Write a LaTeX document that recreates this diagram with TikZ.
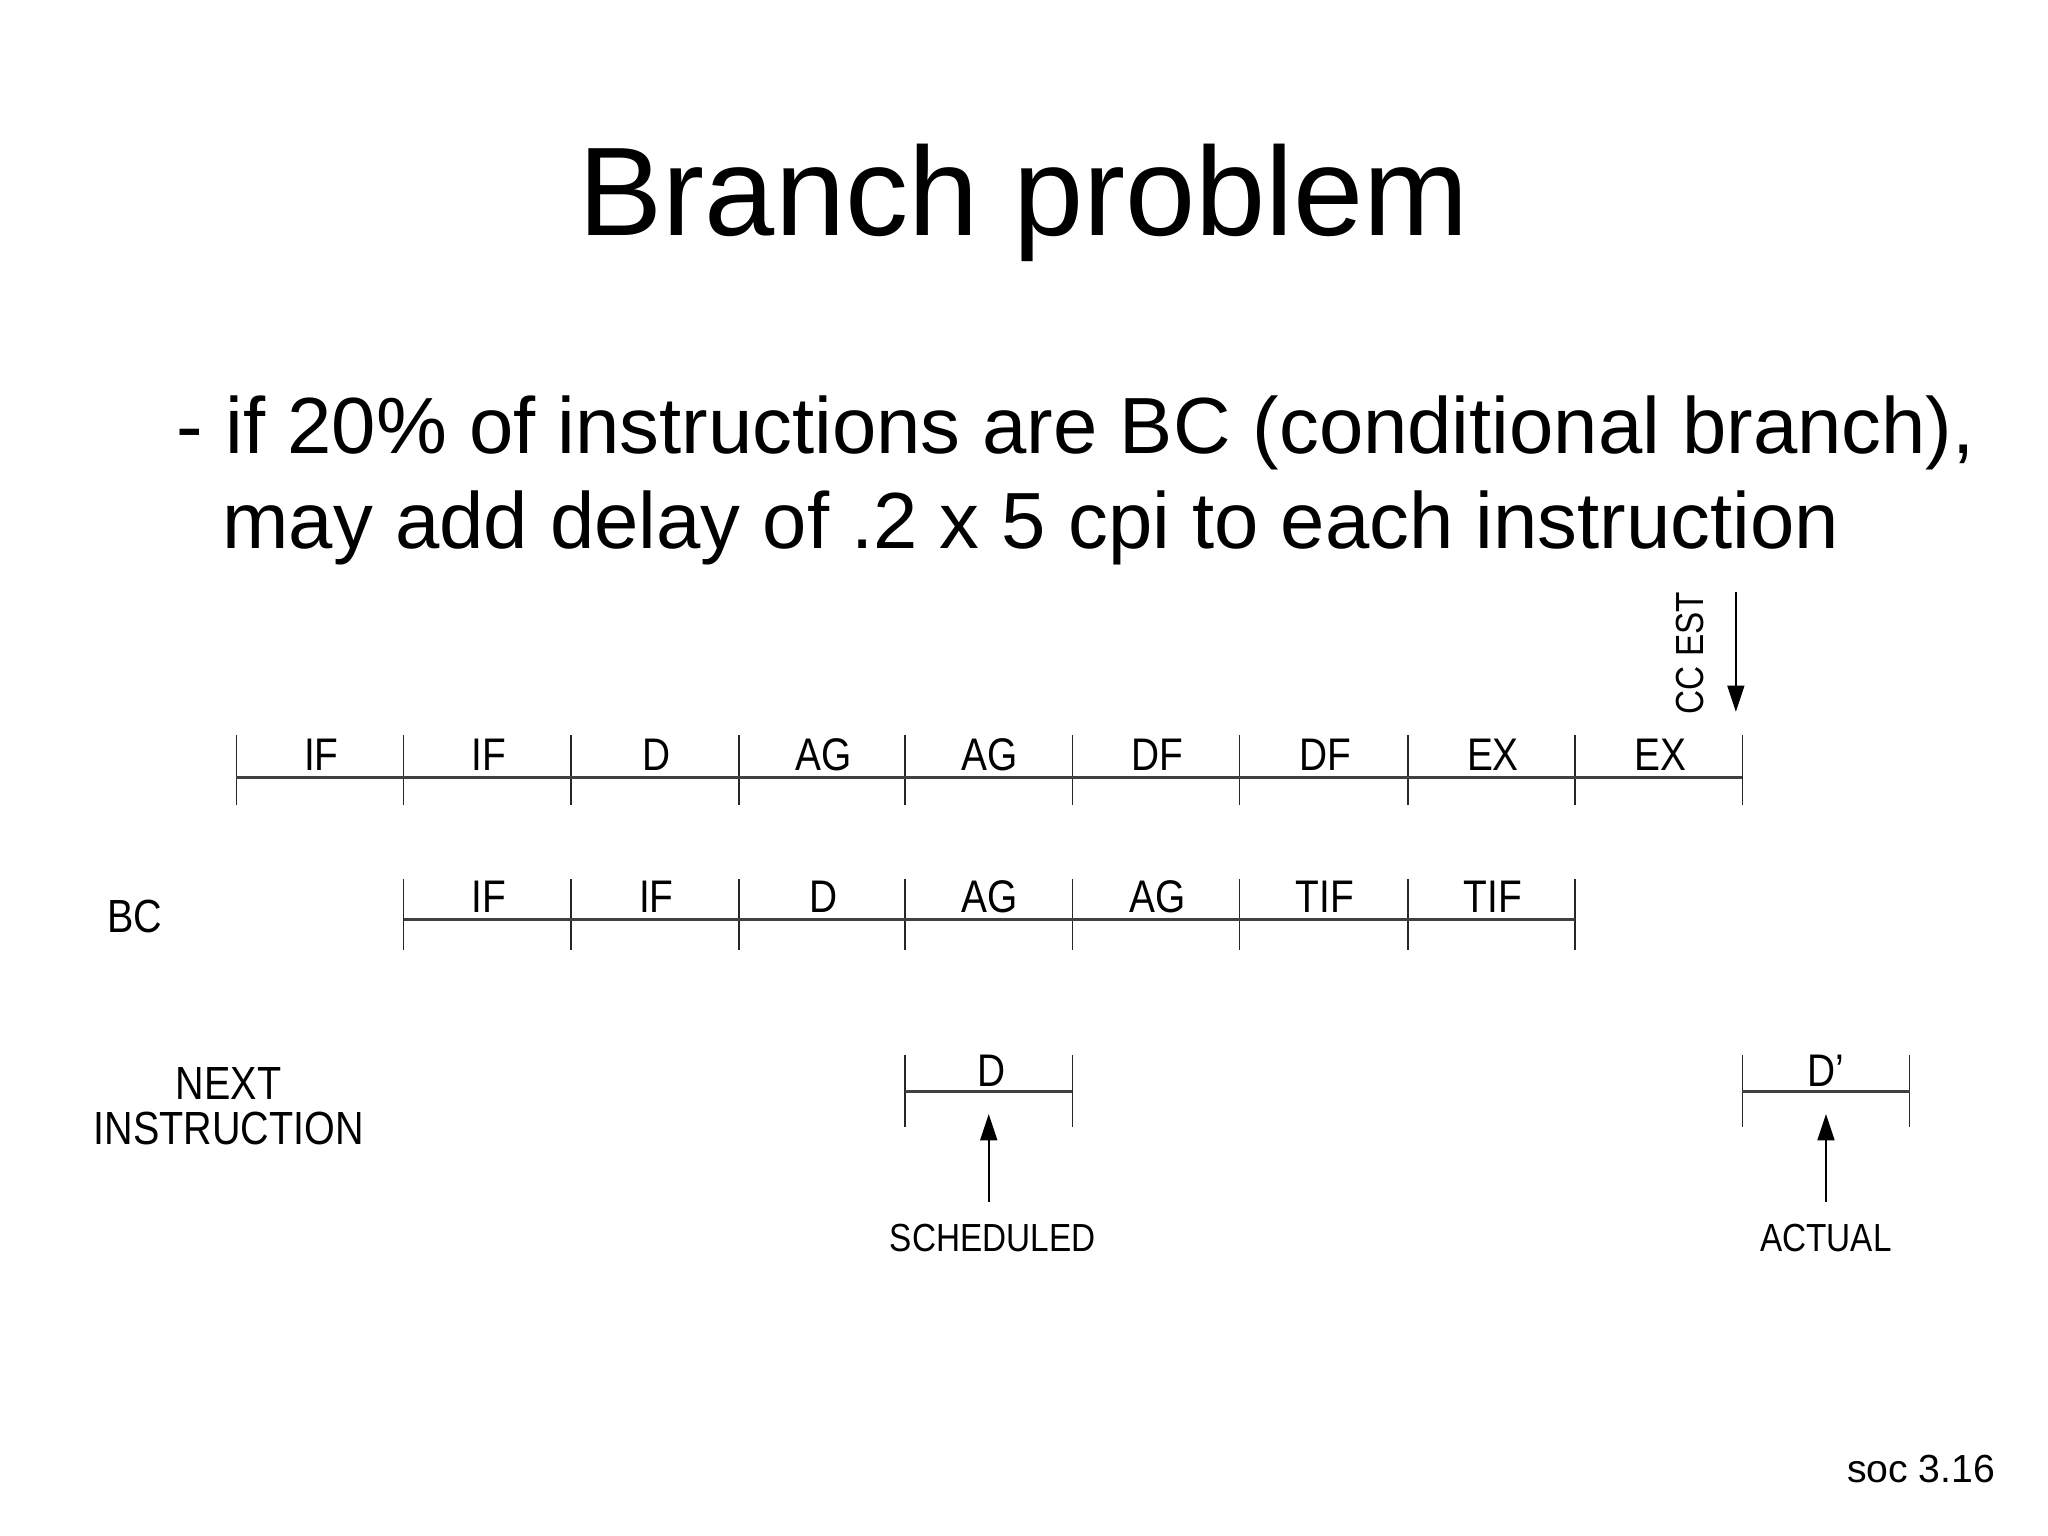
\documentclass[tikz,border=0pt]{standalone}
\usepackage{fontspec}
\setmainfont{Liberation Sans}
\newfontfamily\narrowfont{Liberation Sans}[FakeStretch=0.85]
\usetikzlibrary{arrows.meta}
\begin{document}
\begin{tikzpicture}[x=0.5pt,y=-0.5pt,
  tick/.style={line width=0.6pt,black!85},
  rail/.style={line width=1.1pt,black!75},
  stage/.style={font=\narrowfont\fontsize{17.5}{18}\selectfont,inner sep=0pt,anchor=base},
  lbl/.style={font=\narrowfont\fontsize{17.8}{17.5}\selectfont,inner sep=0pt,align=center},
  small/.style={font=\narrowfont\fontsize{15}{18}\selectfont,inner sep=0pt,anchor=base},
  arr/.style={line width=0.6pt,-{Triangle[length=10pt,width=6.5pt]}}]
\useasboundingbox (0,0) rectangle (1568,1176);
\fill[white] (0,0) rectangle (1568,1176);
% title
\node[font=\fontsize{48.3}{55}\selectfont,inner sep=0pt,anchor=base] (title) at (784,180) {Branch problem};
\node[font=\fontsize{30.5}{36}\selectfont,inner sep=0pt,anchor=base west] (line1) at (135,347) {- if 20\% of instructions are BC (conditional branch),};
\node[font=\fontsize{30.5}{36}\selectfont,inner sep=0pt,anchor=base west] (line2) at (170,420) {may add delay of .2 x 5 cpi to each instruction};
% row 1
\foreach \x in {181,309,437,566,693,821,949,1078,1206,1334}
  \draw[tick] (\x,563) -- (\x,616);
\draw[rail] (181,595) -- (1334,595);
\foreach \a/\b/\t [count=\i] in {181/309/IF,309/437/IF,437/566/D,566/693/AG,693/821/AG,821/949/DF,949/1078/DF,1078/1206/EX,1206/1334/EX}
  \node[stage] (ra\i) at ({(\a+\b)/2+1},590) {\t};
% row 2
\foreach \x in {309,437,566,693,821,949,1078,1206}
  \draw[tick] (\x,673) -- (\x,727);
\draw[rail] (309,704) -- (1206,704);
\foreach \a/\b/\t [count=\i] in {309/437/IF,437/566/IF,566/693/D,693/821/AG,821/949/AG,949/1078/TIF,1078/1206/TIF}
  \node[stage] (rb\i) at ({(\a+\b)/2+1},699) {\t};
\node[lbl] (bc) at (103,702) {BC};
% row 3
\node[lbl] (next) at (175,847) {NEXT\\INSTRUCTION};
\foreach \x in {693,821,1334,1462}
  \draw[tick] (\x,808) -- (\x,863);
\draw[rail] (693,836) -- (821,836);
\draw[rail] (1334,836) -- (1462,836);
\node[stage] (dsch) at (759,832) {D};
\node[stage] (dact) at (1398,832) {D’};
\coordinate (tipsch) at (757,853);
\coordinate (tipact) at (1398,853);
\node[small] (sched) at (760,958) {SCHEDULED};
\node[small] (actual) at (1398,958) {ACTUAL};
\draw[arr] (757,920) -- (tipsch);
\draw[arr] (1398,920) -- (tipact);
% CC EST
\node[font=\narrowfont\fontsize{15}{18}\selectfont,inner sep=0pt,rotate=90] (ccest) at (1294,500) {CC EST};
\coordinate (cctop) at (1329,453);
\coordinate (cctip) at (1329,545);
\draw[arr] (cctop) -- (cctip);
% footer
\node[font=\fontsize{15}{18}\selectfont,inner sep=0pt,anchor=base east] (soc) at (1528,1135) {soc 3.16};
\end{tikzpicture}
\end{document}
